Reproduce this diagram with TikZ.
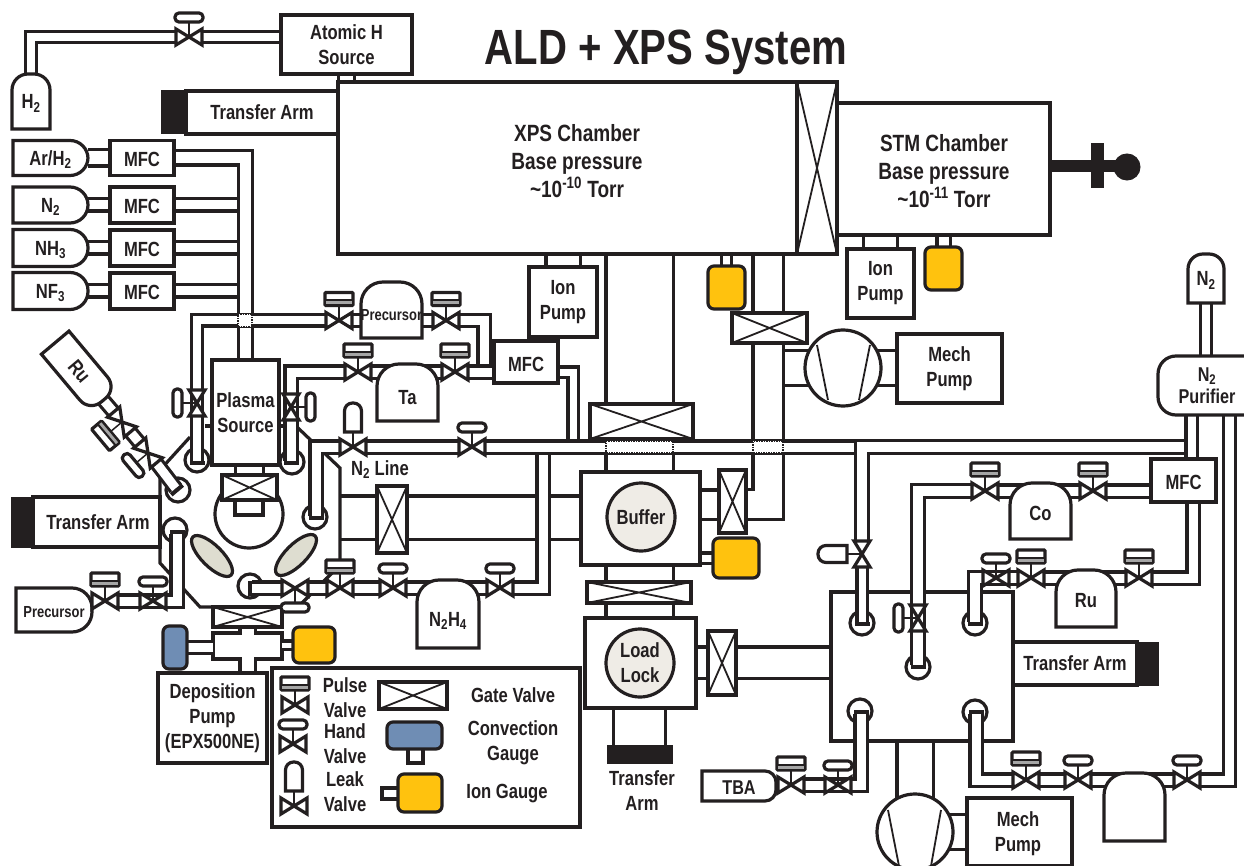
\documentclass[tikz,border=0pt]{standalone}
\usepackage{fontspec}
\setmainfont{Liberation Sans}[UprightFont=* Bold,BoldFont=* Bold,FakeStretch=0.81]
\usetikzlibrary{calc,positioning,shapes.geometric}
\pgfdeclarelayer{background}
\pgfsetlayers{background,main}
\definecolor{ink}{HTML}{231F20}
\definecolor{iongold}{HTML}{FFC20E}
\definecolor{convblue}{HTML}{6F8DB4}
\definecolor{shield}{HTML}{DEDDD0}
\definecolor{disc}{HTML}{EFECE6}
\newcommand{\txtn}{\fontsize{20.5}{25}\selectfont}
\newcommand{\txts}{\fontsize{16}{18}\selectfont}
\newcommand{\txtb}{\fontsize{23.5}{28}\selectfont}
\newcommand{\vbody}{%
  \draw[vtri] (-13,-8) -- (0,0) -- (-13,8) -- cycle (13,-8) -- (0,0) -- (13,8) -- cycle;
  \node[vcore] (-c) {};}
\tikzset{
  hand/.pic={\vbody
    \draw[stem] (0,0) -- (0,-15);
    \draw[vtri, rounded corners=4pt] (-14,-24) rectangle (14,-15);},
  pulse/.pic={\vbody
    \draw[stem] (0,0) -- (0,-15);
    \draw[vtri, rounded corners=1pt] (-14,-28) rectangle (14,-15);
    \fill[gray!70] (-13,-20) rectangle (13,-16);
    \draw[stem, line width=2pt] (-14,-20) -- (14,-20);},
  leak/.pic={\vbody
    \draw[stem] (0,0) -- (0,-15);
    \draw[vtri] (-8.5,-15) [rounded corners=8pt] -- (-8.5,-44) -- (8.5,-44) [sharp corners] -- (8.5,-15) -- cycle;},
}
\begin{document}
\begin{tikzpicture}[
  x=1pt, y=-1pt,
  font=\txtn, text=ink,
  every label/.style={font=\txtn, text=ink, align=center, inner sep=0pt, yshift=-2pt},
  sz/.style 2 args={minimum width=#1pt, minimum height=#2pt},
  box/.style={draw=ink, line width=3.2pt, fill=white, align=center, inner sep=0pt, outer sep=0pt},
  mfc/.style={box, text height=18pt, text depth=0pt},
  txt/.style={align=center, inner sep=0pt},
  armend/.style={fill=ink, draw=ink, line width=1pt, inner sep=0pt, outer sep=0pt},
  gate/.style={box, path picture={
    \draw[line width=1.8pt] (path picture bounding box.north west) -- (path picture bounding box.south east)
      (path picture bounding box.south west) -- (path picture bounding box.north east);}},
  gauge/.style={box, rounded corners=6pt, fill=#1},
  tankline/.style={draw=ink, line width=3.2pt, fill=white},
  tanknode/.style={inner sep=0pt, outer sep=0pt},
  tankt/.style={tanknode, append after command={\pgfextra{\draw[tankline]
    (\tikzlastnode.south west) [rounded corners=#1] -- (\tikzlastnode.north west) -- (\tikzlastnode.north east)
    [sharp corners] -- (\tikzlastnode.south east) -- cycle;}}},
  tanke/.style={tanknode, append after command={\pgfextra{\draw[tankline]
    (\tikzlastnode.south west) [rounded corners=#1] -- (\tikzlastnode.south east) -- (\tikzlastnode.north east)
    [sharp corners] -- (\tikzlastnode.north west) -- cycle;}}},
  tankw/.style={tanknode, append after command={\pgfextra{\draw[tankline]
    (\tikzlastnode.south east) [rounded corners=#1] -- (\tikzlastnode.south west) -- (\tikzlastnode.north west)
    [sharp corners] -- (\tikzlastnode.north east) -- cycle;}}},
  pipe/.style={draw=ink, line width=3.2pt, double=white, double distance=#1},
  pipe/.default=9pt,
  wall/.style={draw=ink, line width=3.2pt},
  portc/.style={circle, draw=ink, line width=3.2pt, minimum size=24pt, inner sep=0pt, outer sep=0pt, fill=white},
  pcap/.style={fill=ink, minimum width=15pt, minimum height=4pt, inner sep=0pt, outer sep=0pt},
  dotbox/.style={fill=white, draw=ink, line width=1.5pt, densely dotted, inner sep=0pt, outer sep=0pt},
  vtri/.style={draw=ink, line width=3.2pt, fill=white},
  vcore/.style={minimum width=26pt, minimum height=15pt, inner sep=0pt, outer sep=0pt, transform shape},
  stem/.style={draw=ink, line width=1.5pt},
  pumpc/.style={circle, draw=ink, line width=3.2pt, fill=white, minimum size=76pt, inner sep=0pt, outer sep=0pt},
]
\useasboundingbox (0,0) rectangle (1244,866);

% Title
\node[font=\fontsize{49.5}{52}\selectfont] (title) at (666,52) {ALD + XPS System};

% XPS and STM chambers
\node[box, sz={459}{172}] (xps) at (567.5,168) {};
\node[txt, font=\txtb] (xpstxt) at (577,161) {XPS Chamber\\Base pressure\\\textasciitilde10\textsuperscript{-10} Torr};
\node[gate, sz={40}{172}] (gstm) at (817,168) {};
\node[box, sz={213}{132}] (stm) at (943.5,169) {};
\node[txt, font=\txtb] (stmtxt) at (944,171) {STM Chamber\\Base pressure\\\textasciitilde10\textsuperscript{-11} Torr};
\node[armend, sz={65}{11}] (rod) at (1082.5,166.5) {};
\node[armend, sz={12}{44}] (rodbar) at (1097,166) {};
\node[armend, circle, minimum size=26pt] (rodball) at (1127,167) {};
\node[box, sz={131}{59}] (atomic) at (346.5,44.5) {Atomic H\\Source};
\node[box, sz={152}{43}] (armtop) at (262,112.5) {Transfer Arm};
\node[armend, sz={25}{43}] (armtopend) at (173.5,112.5) {};
\node[box, sz={68}{70}] (ionx) at (563,302) {Ion\\Pump};
\node[box, sz={67}{69}] (ions) at (880.5,283.5) {Ion\\Pump};
\node[gauge=iongold, sz={37}{43}] (igx) at (726.5,287.5) {};
\node[gauge=iongold, sz={37}{43}] (igs) at (943.5,268.5) {};

% Gas bottles
\node[tankt=16pt, sz={38}{55}, label={center:H\textsubscript{2}}] (h2) at (31,101.5) {};
\node[tanke=18pt, sz={75}{35}, label={center:Ar/H\textsubscript{2}}] (tar) at (50.5,158) {};
\node[mfc, sz={64}{35}, right=22pt of tar] (mfcar) {MFC};
\node[tanke=18pt, sz={75}{36}, label={center:N\textsubscript{2}}] (tn2) at (50.5,205) {};
\node[mfc, sz={64}{36}, right=22pt of tn2] (mfcn2) {MFC};
\node[tanke=18pt, sz={75}{37}, label={center:NH\textsubscript{3}}] (tnh3) at (50.5,248) {};
\node[mfc, sz={64}{36}, right=22pt of tnh3] (mfcnh3) {MFC};
\node[tanke=18pt, sz={75}{37}, label={center:NF\textsubscript{3}}] (tnf3) at (50.5,291) {};
\node[mfc, sz={64}{36}, right=22pt of tnf3] (mfcnf3) {MFC};

% ALD chamber
\node[box, sz={67}{105}] (plasma) at (245.5,412.5) {Plasma\\Source};
\node[circle, draw=ink, line width=3.2pt, minimum size=68pt, inner sep=0pt] (stage) at (249,514) {};
\node[box, sz={28}{20}] (holder) at (249,505) {};
\node[gate, sz={55}{25}] (gplasma) at (249.5,487.5) {};
\node[ellipse, draw=ink, line width=3.2pt, fill=shield, minimum width=54pt, minimum height=21pt, inner sep=0pt, rotate=-45] (shl) at (212,556) {};
\node[ellipse, draw=ink, line width=3.2pt, fill=shield, minimum width=54pt, minimum height=21pt, inner sep=0pt, rotate=45] (shr) at (296,555) {};
\node[box, sz={127}{50}] (armald) at (96.5,522) {\hspace*{3pt}Transfer Arm};
\node[armend, sz={22}{50}] (armaldend) at (22,522) {};
\node[gate, sz={69}{20}] (gdep) at (247.5,617) {};
\node[box, sz={109}{90}] (dep) at (212.5,718) {Deposition\\Pump\\(EPX500NE)};
\node[gauge=convblue, sz={24}{43}] (cgdep) at (175,647.5) {};
\node[gauge=iongold, sz={42}{36}] (igdep) at (314,645) {};

% Precursor bottles and MFC
\node[tankt=22pt, sz={61}{56}, label={[font=\txts, yshift=-3pt]center:Precursor}] (prec) at (391.5,310) {};
\node[tankt=22pt, sz={61}{57}, label={[yshift=-3pt]center:Ta}] (ta) at (407.5,392.5) {};
\node[mfc, sz={64}{42}] (mfcm) at (526,362) {MFC};
\node[tankt=22pt, sz={62}{68}, label={[yshift=-5pt]center:N\textsubscript{2}H\textsubscript{4}}] (n2h4) at (448,614) {};
\node[tanke=20pt, sz={76}{44}, label={[font=\txts]center:Precursor}] (pret) at (54,610) {};
\node[tanke=15pt, sz={75}{36}, rotate=-50] (trua) at (79.3,371.4) {};
\node[txt, rotate=-50] (truatxt) at (trua) {Ru};
\node[txt] (n2line) at (380,470) {N\textsubscript{2} Line};
\node[gate, sz={30}{67}] (gduct) at (392,519.5) {};

% Buffer and load lock
\node[gate, sz={103}{35}] (gbuf) at (641.5,421.5) {};
\node[box, sz={119}{93}] (buffer) at (640.5,518.5) {};
\node[circle, draw=ink, line width=3.2pt, fill=disc, minimum size=68pt, inner sep=0pt] (bufdisc) at (641,517) {Buffer};
\node[gate, sz={27}{63}] (gbufr) at (732.5,501.5) {};
\node[gauge=iongold, sz={46}{40}] (igbuf) at (736,558) {};
\node[gate, sz={104}{21}] (gload) at (639,592.5) {};
\node[box, sz={111}{90}] (load) at (640.5,663) {};
\node[circle, draw=ink, line width=3.2pt, fill=disc, minimum size=68pt, inner sep=0pt, align=center] (loaddisc) at (640,663) {Load\\Lock};
\node[gate, sz={28}{64}] (gloadr) at (722,663) {};
\node[armend, sz={65}{18}] (armload) at (639.5,754) {};
\node[txt] (armloadtxt) at (642,790.5) {Transfer\\Arm};

% Mech pump, top
\node[gate, sz={75}{30}] (gmech) at (769.5,328) {};
\node[pumpc] (pumpa) at (843,368) {};
\node[box, sz={105}{69}] (mecha) at (949.5,368.5) {Mech\\Pump};
\draw[stem, line width=1.8pt] (817,345) -- (828,400) (870,345) -- (859,400);

% Right chamber
\node[box, sz={124}{43}] (armr) at (1075,663.5) {Transfer Arm};
\node[armend, sz={21}{43}] (armrend) at (1147.5,663.5) {};
\node[mfc, sz={65}{43}] (mfcr) at (1183.5,480.5) {MFC};
\node[tankw=18pt, sz={102}{59}] (purifier) at (1209,385.5) {};
\node[txt, font=\fontsize{20}{22}\selectfont] (purtxt) at (1207,386) {N\textsubscript{2}\\Purifier};
\node[tankt=15pt, sz={36}{49}, label={center:N\textsubscript{2}}] (n2top) at (1206,278.5) {};
\node[tankt=22pt, sz={61}{56}, label={center:Co}] (co) at (1040.5,511) {};
\node[tankt=22pt, sz={60}{57}, label={center:Ru}] (ru) at (1086,598.5) {};
\node[tanke=11pt, sz={74}{30}, label={[font=\fontsize{20}{22}\selectfont]center:TBA}] (tba) at (739,786) {};
\node[tankt=22pt, sz={61}{68}] (tnk) at (1134.5,807) {};
\node[pumpc] (pumpb) at (915,832) {};
\node[box, sz={105}{68}] (mechb) at (1019.5,832) {};
\node[txt] (mechbtxt) at (1018,834) {Mech\\Pump};
\draw[stem, line width=1.8pt] (888,810) -- (899,866) (941,810) -- (931,866);

% Valves
\pic (vh) at (189,37) {hand};
\pic (vpa) at (339,320.5) {pulse};
\pic (vpb) at (446,320.5) {pulse};
\pic (vta) at (358,372) {pulse};
\pic (vtb) at (455,372) {pulse};
\pic[rotate=90] (vpl) at (197,403) {hand};
\pic[rotate=-90] (vpr) at (291,407) {hand};
\pic (vlk) at (353,447) {leak};
\pic (vnl) at (472,447) {hand};
\pic (vxa) at (105,601) {pulse};
\pic (vxb) at (153,601) {hand};
\pic[rotate=130] (vra) at (122,422) {pulse};
\pic[rotate=130] (vrb) at (148,453) {hand};
\pic[rotate=180] (vna) at (295,588) {hand};
\pic (vnb) at (340,588) {pulse};
\pic (vnc) at (393,588) {hand};
\pic (vnd) at (500,588) {hand};
\pic (vca) at (985,491) {pulse};
\pic (vcb) at (1093,491) {pulse};
\pic (vua) at (996,578) {hand};
\pic (vub) at (1031,578) {pulse};
\pic (vuc) at (1139,578) {pulse};
\pic[rotate=90] (vchk) at (862,554) {leak};
\pic[rotate=90] (vcoh) at (918,618) {hand};
\pic (vba) at (791,785) {pulse};
\pic (vbb) at (838,785) {hand};
\pic (vbc) at (1026,780) {pulse};
\pic (vbd) at (1078,780) {hand};
\pic (vbe) at (1187,780) {hand};

% Port end caps
\node[pcap] (capa) at (197,463) {};
\node[pcap] (capb) at (291,463) {};
\node[pcap] (capc) at (316,518) {};
\node[pcap] (capd) at (177,532) {};
\node[pcap, rotate=90] (cape) at (250,588) {};
\node[pcap, rotate=40] (capf) at (177,490) {};
\node[pcap] (capg) at (862,624) {};
\node[pcap] (caph) at (918,667) {};
\node[pcap] (capi) at (975,624) {};
\node[pcap] (capj) at (861,712) {};
\node[pcap] (capk) at (976,712) {};

% Crossings of the gas lines
\node[dotbox, sz={14}{13}] (xa) at (245,320.5) {};
\node[dotbox, sz={67}{12}] (xb) at (639.5,447) {};
\node[dotbox, sz={30}{12}] (xc) at (768,447) {};

% Legend
\node[box, sz={308}{159}] (legend) at (426,747.5) {};
\pic (lgp) at (295,705) {pulse};
\pic (lgh) at (293,744) {hand};
\pic (lgl) at (294,806) {leak};
\node[txt] (lgpt) at (345,698) {Pulse\\Valve};
\node[txt] (lght) at (345,744) {Hand\\Valve};
\node[txt] (lglt) at (345,792) {Leak\\Valve};
\node[gate, sz={68}{27}] (lgg) at (413,695.5) {};
\node[txt] (lggt) at (513,695) {Gate Valve};
\node[box, sz={15}{20}] (lgcs) at (415.5,753) {};
\node[gauge=convblue, sz={55}{27}] (lgc) at (414.5,735.5) {};
\node[txt] (lgct) at (513,742.5) {Convection\\Gauge};
\node[box, sz={20}{11}] (lgis) at (392,793.5) {};
\node[gauge=iongold, sz={44}{38}] (lgi) at (420,793) {};
\node[txt] (lgit) at (507,794) {Ion Gauge};

% Free ends on the lines
\coordinate (bus) at (236.5,250);
\coordinate (jta) at (484,364.5);
\coordinate (jmfc) at (573,439.5);
\coordinate (jtee) at (853.5,447);
\coordinate (jpur) at (1184.5,447);
\coordinate (jup) at (543,454.5);
\coordinate (ppa) at (1191.5,415);
\coordinate (ppb) at (1229.5,415);
\coordinate (ppc) at (1193,502);
\coordinate (tubea) at (639.5,300);
\coordinate (tubeb) at (768,504.5);
\coordinate (tubec) at (340,517.5);
\coordinate (tubed) at (770,662.5);
\coordinate (stubl) at (205,426);
\coordinate (stubr) at (285,426);

\begin{pgfonlayer}{background}
\node[box, sz={182}{149}] (cham) at (922,666.5) {};
\node[box, sz={69}{26}] (tee) at (247.5,646) {};

% Wide tubes
\draw[pipe=32pt] (tubeb |- pumpa.center) -- (pumpa.center);
\draw[pipe=32pt] (pumpa.center) -- (pumpa.center -| mecha.west);
\draw[pipe=64pt] (tubea |- xps.south) -- (tubea |- gbuf.north);
\draw[pipe=64pt] (tubea |- gbuf.south) -- (tubea |- buffer.north);
\draw[pipe=64pt] (tubea |- buffer.south) -- (tubea |- gload.north);
\draw[pipe=64pt] (tubea |- gload.south) -- (tubea |- load.north);
\draw[pipe=27pt] (tubeb |- xps.south) -- (tubeb |- gmech.north);
\draw[pipe=27pt] (tubeb |- gmech.south) -- (tubeb) -- (tubeb -| gbufr.east);
\draw[pipe=26pt] (tubeb -| buffer.east) -- (tubeb -| gbufr.west);
\draw[pipe=40pt] (tubec) -- (tubec -| gduct.west);
\draw[pipe=40pt] (tubec -| gduct.east) -- (tubec -| buffer.west);
\draw[pipe=28pt] (tubed -| load.east) -- (tubed -| gloadr.west);
\draw[pipe=28pt] (tubed -| gloadr.east) -- ([xshift=-2pt]tubed -| cham.west);
\draw[pipe=49pt] (load.south -| armload) -- (armload.north);
\draw[pipe=33pt] ([yshift=-2pt]cham.south -| pumpb) -- (pumpb.center);
\draw[pipe=32pt] (pumpb.center) -- (pumpb.center -| mechb.west);
\draw[pipe=31pt] (ionx.north) -- (ionx.north |- xps.south);
\draw[pipe=31pt] (ions.north) -- (ions.north |- stm.south);
\draw[pipe=7pt] (igx.north) -- (igx.north |- xps.south);
\draw[pipe=10pt] (igs.north) -- (igs.north |- stm.south);
\draw[pipe=7pt] (igbuf.west) -- (igbuf.west -| buffer.east);
\draw[pipe=13pt] (atomic.south) -- (atomic.south |- xps.north);
\draw[pipe=25pt] (plasma.south -| gplasma) -- (gplasma.north);

% Chamber walls
\draw[wall] (190,437) -- (160,470) -- (160,563) -- (200,607) -- (gdep.north west);
\draw[wall] (297,427) -- (340,468) -- (340,565) -- (302,603);
\draw[wall] (stubl) -- (stubl -| plasma.west) (stubr -| plasma.east) -- (stubr);
\node[portc] (porta) at (197,460) {};
\node[portc] (portb) at (292,462) {};
\node[portc] (portc) at (315,517) {};
\node[portc] (portd) at (175,530) {};
\node[portc] (porte) at (250,586) {};
\node[portc] (portf) at (178,490) {};
\node[portc] (portg) at (862,623) {};
\node[portc] (porth) at (918,667) {};
\node[portc] (porti) at (975,623) {};
\node[portc] (portj) at (860,711) {};
\node[portc] (portk) at (975,712) {};

% Gas lines
\draw[pipe=8pt] (h2.north) |- (vh-c.west);
\draw[pipe=8pt] (vh-c.east) -- (vh-c.east -| atomic.west);
\draw[pipe=13pt] (tar.east) -- (mfcar.west);
\draw[pipe] (tn2.east) -- (mfcn2.west);
\draw[pipe] (tnh3.east) -- (mfcnh3.west);
\draw[pipe] (tnf3.east) -- (mfcnf3.west);
\draw[pipe] (mfcn2.east) -- (mfcn2.east -| bus);
\draw[pipe] (mfcnh3.east) -- (mfcnh3.east -| bus);
\draw[pipe] (mfcnf3.east) -- (mfcnf3.east -| bus);
\draw[pipe=11pt] (mfcar.east) -| (plasma.north);
\draw[pipe=8pt] (capa) |- (vpa-c.west);
\draw[pipe] (vpa-c.east) -- (vpa-c.east -| prec.west);
\draw[pipe] (vpb-c.west) -- (vpb-c.west -| prec.east);
\draw[pipe] (vpb-c.east) -| (jta);
\draw[pipe] (capb) |- (vta-c.west);
\draw[pipe] (vta-c.east) -- (vta-c.east -| ta.center);
\draw[pipe] (vtb-c.west) -- (vtb-c.west -| ta.center);
\draw[pipe] (vtb-c.east) -- (vtb-c.east -| mfcm.west);
\draw[pipe=7pt] (vtb-c.east -| mfcm.east) -| (jmfc);
\draw[pipe] (capc) |- (vlk-c.west);
\draw[pipe] (vlk-c.east) -- (vnl-c.west);
\draw[pipe] (vnl-c.east) -- (jtee);
\draw[pipe=10pt] (jpur) -| (vchk-c.east);
\draw[pipe=7pt] (vchk-c.west) -- (capg);
\draw[pipe=8pt] (ppa) -- (ppa |- mfcr.north);
\draw[pipe=9pt] (ppb) |- (vbe-c.east);
\draw[pipe=8pt] (n2top.south) -- (n2top.south |- purifier.north);
\draw[pipe=9pt] (ppc) |- (vuc-c.east);
\draw[pipe=10pt] (caph) |- (vca-c.west);
\draw[pipe] (vca-c.east) -- (vca-c.east -| co.center);
\draw[pipe] (vcb-c.west) -- (vcb-c.west -| co.center);
\draw[pipe] (vcb-c.east) -- (vcb-c.east -| mfcr.west);
\draw[pipe] (vuc-c.west) -- (vuc-c.west -| ru.center);
\draw[pipe] (vub-c.east) -- (vub-c.east -| ru.center);
\draw[pipe=10pt] (capi) |- (vub-c.west);
\draw[pipe] (tba.east) -- (tba.east -| vba-c.west);
\draw[pipe] (capj) |- (vba-c.east);
\draw[pipe] (capk) |- (vbc-c.west);
\draw[pipe] (vbc-c.east) -- (vbd-c.west);
\draw[pipe] (vbd-c.east) -- (vbd-c.east -| tnk.center);
\draw[pipe] (vbe-c.west) -- (vbe-c.west -| tnk.center);
\draw[pipe] (pret.east |- vxa-c) -- (vxa-c.west);
\draw[pipe] (capd) |- (vxa-c.east);
\draw[pipe] (cape) -- (vna-c.east);
\draw[pipe] (vna-c.west) -- (vnb-c.west);
\draw[pipe] (vnb-c.east) -- (vnc-c.west);
\draw[pipe] (vnc-c.east) -- (vnc-c.east -| n2h4.center);
\draw[pipe] (vnd-c.west) -- (vnd-c.west -| n2h4.center);
\draw[pipe] (vnd-c.east) -| (jup);
\draw[pipe] (trua.east) -- (vra-c.east);
\draw[pipe] (vra-c.west) -- (vrb-c.east);
\draw[pipe] (vrb-c.west) -- (capf);
\draw[pipe=12pt] (gdep.south) -- ([yshift=-2pt]tee.north);
\draw[pipe=12pt] ([yshift=2pt]tee.south) -- (tee.south |- dep.north);
\draw[pipe=9pt] (cgdep.east) -- (cgdep.east -| tee.west);
\draw[pipe=5pt] (tee.east |- igdep) -- (igdep.west);
\end{pgfonlayer}
\end{tikzpicture}
\end{document}
